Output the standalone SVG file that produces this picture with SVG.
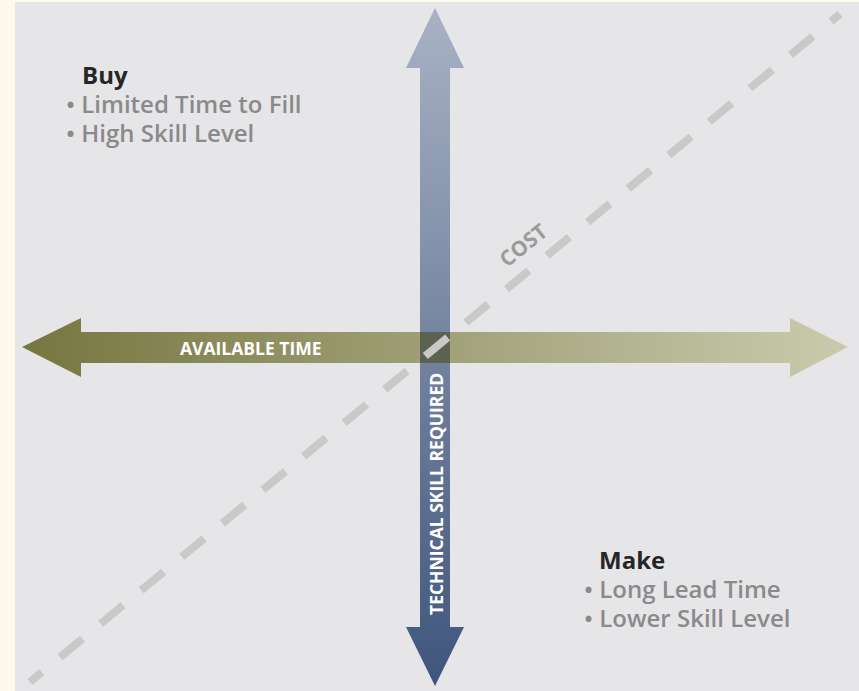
<svg xmlns="http://www.w3.org/2000/svg" width="859" height="691" viewBox="0 0 859 691">
  <defs>
    <linearGradient id="gradV" x1="0" y1="8" x2="0" y2="686" gradientUnits="userSpaceOnUse">
      <stop offset="0" stop-color="#a9b2c4"/>
      <stop offset="1" stop-color="#3f557c"/>
    </linearGradient>
    <linearGradient id="gradH" x1="22" y1="0" x2="848" y2="0" gradientUnits="userSpaceOnUse">
      <stop offset="0" stop-color="#767640"/>
      <stop offset="1" stop-color="#cacbae"/>
    </linearGradient>
    <style>
      .title { font-family: "Open Sans", "Liberation Sans", sans-serif; font-weight: 700; font-size: 24px; fill: #262626; }
      .item { font-family: "Open Sans", "Liberation Sans", sans-serif; font-weight: 600; font-size: 24px; fill: #8a8a8a; }
      .axis { font-family: "Open Sans", "Liberation Sans", sans-serif; font-weight: 700; font-size: 17.5px; fill: #ffffff; }
      .cost { font-family: "Open Sans", "Liberation Sans", sans-serif; font-weight: 700; font-size: 21px; fill: #9a9a9a; }
      .dash { stroke: #c9c9c9; stroke-width: 8; fill: none; stroke-dasharray: 29 23.6; }
    </style>
  </defs>

  <!-- page and panel -->
  <rect x="0" y="0" width="859" height="691" fill="#fdf9ed"/>
  <rect x="15" y="2" width="844" height="689" fill="#e6e6e8"/>

  <!-- axes -->
  <g id="axes">
    <g id="skill-axis">
      <polygon points="435,8 464,68 450,68 450,627 464,627 435,686 406,627 420,627 420,68 406,68" fill="url(#gradV)"/>
    </g>
    <g id="time-axis">
      <polygon points="22,347 81,318 81,332 790,332 790,318 848,347 790,377 790,363 81,363 81,377" fill="url(#gradH)"/>
    </g>
    <rect id="crossing" x="420" y="332" width="30" height="31" fill="#5c6251"/>
  </g>

  <!-- connectors -->
  <g id="connectors">
    <line id="cost-line" class="dash" x1="30" y1="682" x2="840" y2="14" stroke-dashoffset="13.6"/>
  </g>

  <!-- axis labels -->
  <g id="labels">
    <text class="axis" x="180" y="355">AVAILABLE TIME</text>
    <text class="axis" transform="translate(443,615) rotate(-90)">TECHNICAL SKILL REQUIRED</text>
    <text class="cost" text-anchor="middle" transform="translate(528,251) rotate(-39)">COST</text>
  </g>

  <!-- quadrant notes -->
  <g id="buy">
    <text class="title" x="82" y="84">Buy</text>
    <text class="item" x="66" y="113">• Limited Time to Fill</text>
    <text class="item" x="66" y="142">• High Skill Level</text>
  </g>
  <g id="make">
    <text class="title" x="599" y="569">Make</text>
    <text class="item" x="584" y="598">• Long Lead Time</text>
    <text class="item" x="584" y="627">• Lower Skill Level</text>
  </g>
</svg>
